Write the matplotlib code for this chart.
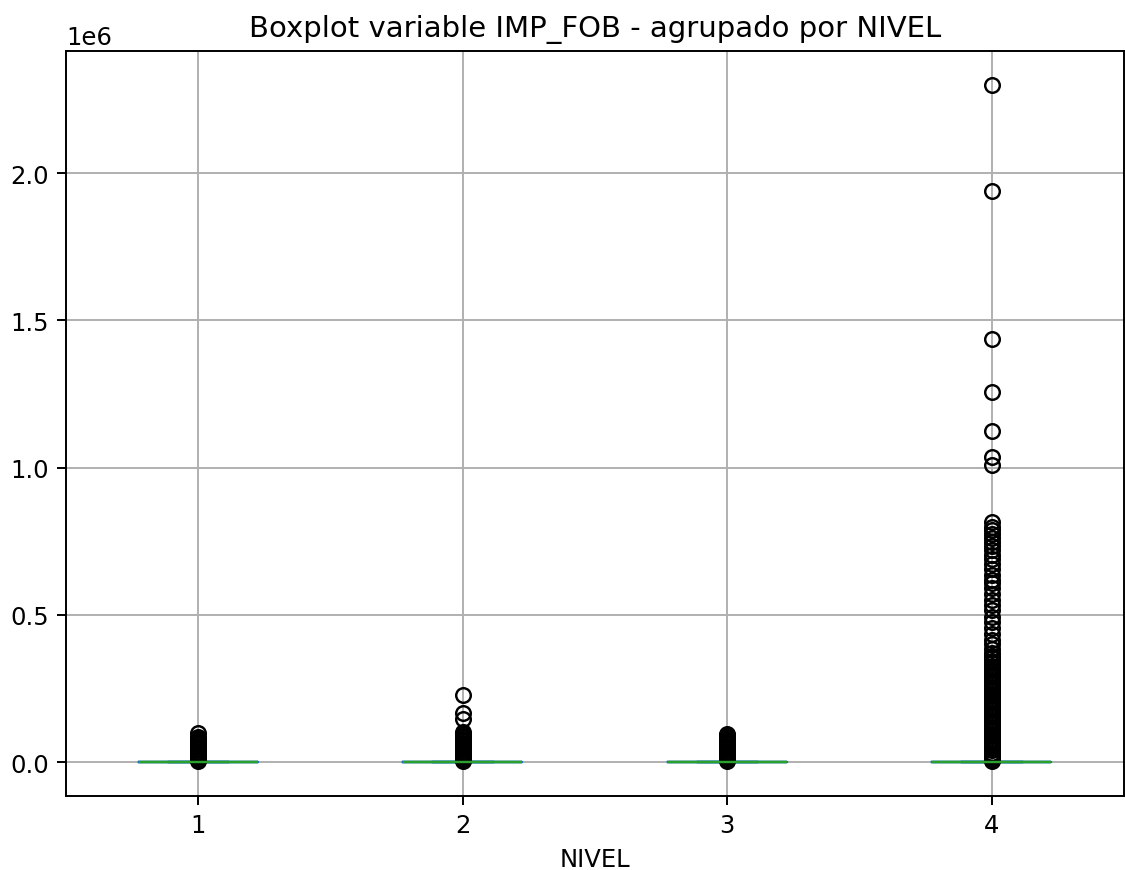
import matplotlib
matplotlib.use("Agg")
import matplotlib.pyplot as plt

# NIVEL groups and box statistics of IMP_FOB (values in USD)
niveles = ["1", "2", "3", "4"]
q1 = [100, 100, 100, 120]
med = [400, 450, 380, 520]
q3 = [800, 850, 750, 950]
whislo = [0, 0, 0, 0]
whishi = [1600, 1700, 1500, 1900]

# outliers, in thousands of USD
fliers_1 = [100, 84, 80, 76, 72, 68, 64, 60, 56, 52, 48, 44, 40, 36, 32, 28,
            24, 20, 16, 12, 8, 5]
fliers_2 = [228, 167, 145, 102, 96, 90, 85, 80, 75, 70, 65, 60, 55, 50, 45,
            40, 35, 30, 25, 20, 16, 12, 8, 5]
fliers_3 = [97, 92, 88, 84, 80, 76, 72, 68, 64, 60, 56, 52, 48, 44, 40, 36,
            32, 28, 24, 20, 16, 12, 8, 5]
fliers_4 = [2300, 1940, 1437, 1256, 1124, 1035, 1010,
            815, 800, 788, 775, 762, 748, 735, 720, 705, 690, 672, 655, 636,
            620, 608, 590, 570, 551, 535, 515, 493, 475, 456, 435, 415, 400,
            385, 370, 360, 352, 344, 336, 328, 320, 312, 304, 296, 288, 280,
            272, 264, 256, 248, 240, 232, 224, 216, 208, 200, 192, 184, 176,
            168, 160, 152, 144, 136, 128, 120, 112, 104, 96, 88, 80, 72, 64,
            56, 48, 40, 32, 24, 18, 12, 8, 5]
fliers = [fliers_1, fliers_2, fliers_3, fliers_4]

stats = []
for i, n in enumerate(niveles):
    stats.append({"label": n, "med": med[i], "q1": q1[i], "q3": q3[i],
                  "whislo": whislo[i], "whishi": whishi[i],
                  "fliers": [v * 1e3 for v in fliers[i]]})

fig = plt.figure(figsize=(6.4286, 4.9771), dpi=175)
ax = fig.add_axes([0.0587, 0.085, 0.9404, 0.8553])

ax.bxp(stats,
       boxprops=dict(color="#1f77b4"),
       whiskerprops=dict(color="#1f77b4"),
       capprops=dict(color="#1f77b4"),
       medianprops=dict(color="#2ca02c", zorder=3),
       flierprops=dict(marker="o", markerfacecolor="none",
                       markeredgecolor="k"))
ax.grid(True)
ax.set_title("Boxplot variable IMP_FOB - agrupado por NIVEL")
ax.set_xlabel("NIVEL")

fig.savefig("out.png", dpi=175)
